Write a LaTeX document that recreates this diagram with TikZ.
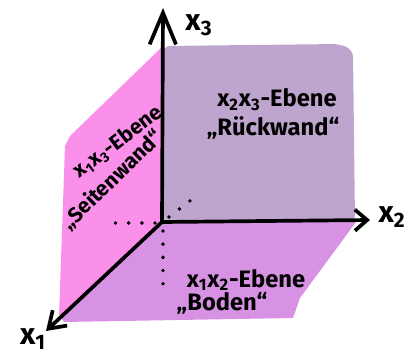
\documentclass[tikz,border=0pt]{standalone}
\usepackage{fontspec}
\setmainfont{Fira Sans}
\usetikzlibrary{arrows.meta}
\definecolor{backc}{HTML}{BDA5CE}
\definecolor{sidec}{HTML}{FA90EA}
\definecolor{floorc}{HTML}{D892E3}
\tikzset{
  axis/.style={line width=2.1pt, line cap=round, line join=round},
  dotline/.style={line width=2.2pt, line cap=round, dash pattern=on 0pt off 7.5pt},
  lbl/.style={font=\bfseries\fontsize{13.5}{15}\selectfont, inner sep=0pt},
  sidelbl/.style={font=\bfseries\fontsize{12}{14}\selectfont, inner sep=0pt},
  axlbl/.style={font=\bfseries\fontsize{17}{19}\selectfont, inner sep=0pt},
}
\begin{document}
\begin{tikzpicture}[x=0.02cm, y=-0.02cm]
\useasboundingbox (0,0) rectangle (413,352);
% named points
\coordinate (O) at (162,222);
\coordinate (X3) at (163,8);
\coordinate (X2) at (370,220);
\coordinate (X1) at (46,331);
% faces
\fill[sidec] (163,46) -- (70,136) -- (65,146) -- (59,316) -- (66,322) -- (O) -- cycle;
\fill[floorc] (O) -- (356,222) -- (300,298) -- (293,318) -- (64,322) -- (60,316) -- cycle;
\fill[backc, rounded corners=4pt] (163,46) -- (340,44) -- (353,50) -- (355,222) -- (163,222) -- cycle;
% dotted hidden edges
\coordinate (DL) at (106,223);
\coordinate (DD) at (163,288);
\coordinate (DR) at (191,200);
\draw[dotline] (O) ++(-7,1) -- (DL);
\draw[dotline] (O) ++(1,9) -- (DD);
\draw[dotline] (O) ++(7,-5) -- (DR);
% axes
\draw[axis, -{Straight Barb[length=18pt, width=15pt, line width=2.1pt]}] (O) -- (X3);
\draw[axis, -{Straight Barb[length=7pt, width=12pt, line width=2.1pt]}] (O) -- (X2);
\draw[axis, -{Straight Barb[length=9pt, width=12pt, line width=2.1pt]}] (O) -- (X1);
% axis labels
\node[axlbl] (L3) at (199,25) {x\textsubscript{3}};
\node[axlbl] (L2) at (392,217) {x\textsubscript{2}};
\node[axlbl] (L1) at (33,339) {x\textsubscript{1}};
% plane labels
\node[lbl] (back1) at (277,100) {x\textsubscript{2}x\textsubscript{3}-Ebene};
\node[lbl] (back2) at (273,128) {„Rückwand“};
\node[lbl] (floor1) at (246,280) {x\textsubscript{1}x\textsubscript{2}-Ebene};
\node[lbl] (floor2) at (222,303) {„Boden“};
\node[sidelbl, rotate=37] (side1) at (118,142) {x\textsubscript{1}x\textsubscript{3}-Ebene};
\node[sidelbl, rotate=44] (side2) at (112,180) {„Seitenwand“};
\end{tikzpicture}
\end{document}
